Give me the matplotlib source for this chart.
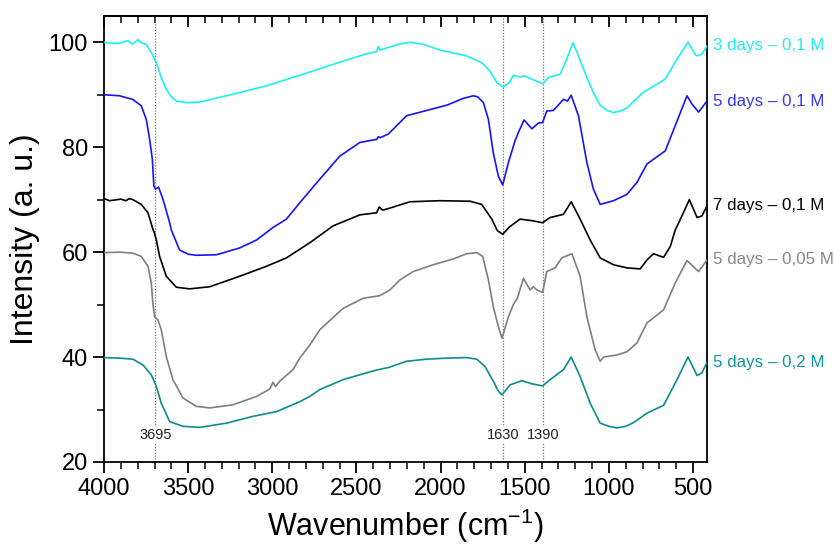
import matplotlib
matplotlib.use("Agg")
import matplotlib.pyplot as plt
from matplotlib.ticker import MultipleLocator

plt.rcParams['font.family'] = ['Liberation Sans', 'DejaVu Sans']
plt.rcParams['mathtext.fontset'] = 'custom'
plt.rcParams['mathtext.rm'] = 'Liberation Sans'
plt.rcParams['mathtext.it'] = 'Liberation Sans:italic'
plt.rcParams['mathtext.default'] = 'rm'

# ---------------- data ----------------
wn_3d01 = [4000, 3960, 3908, 3860, 3830, 3800, 3780, 3749, 3719, 3689, 3660, 3630, 3600, 3570,
           3511, 3432, 3234, 3035, 2837, 2639, 2440, 2380, 2371, 2360, 2321, 2250, 2182, 2100,
           2004, 1845, 1756, 1706, 1666, 1631, 1591, 1568, 1530, 1500, 1468, 1394, 1359, 1290,
           1250, 1214, 1181, 1131, 1090, 1052, 1010, 973, 930, 893, 794, 714, 665, 595, 530,
           481, 447, 417]
int_3d01 = [100.0, 99.8, 99.8, 100.3, 99.6, 100.5, 99.9, 99.6, 98.0, 96.1, 93.3, 91.0, 89.6, 88.8,
            88.5, 88.6, 90.1, 91.7, 93.7, 95.8, 97.8, 98.2, 99.2, 98.5, 98.9, 99.6, 100.0, 99.6,
            98.5, 97.4, 96.1, 94.5, 92.3, 91.5, 92.3, 93.7, 93.4, 93.6, 93.1, 92.1, 93.3, 93.9,
            96.8, 99.9, 97.4, 93.3, 90.3, 88.0, 87.0, 86.6, 86.9, 87.5, 90.5, 92.0, 93.0, 96.8,
            100.0, 97.4, 97.7, 99.3]

wn_5d01 = [4000, 3908, 3829, 3779, 3749, 3729, 3713, 3704, 3694, 3676, 3650, 3610, 3600, 3551,
           3500, 3451, 3332, 3194, 3094, 2996, 2916, 2837, 2718, 2599, 2480, 2380, 2370, 2360,
           2311, 2202, 2083, 1964, 1865, 1806, 1780, 1746, 1716, 1687, 1657, 1631, 1597, 1558,
           1538, 1504, 1458, 1419, 1394, 1369, 1330, 1270, 1246, 1224, 1181, 1131, 1092, 1052,
           973, 893, 833, 774, 665, 606, 536, 506, 467, 417]
int_5d01 = [90.0, 89.8, 89.1, 87.9, 85.3, 81.5, 77.7, 72.6, 72.0, 72.4, 70.1, 65.6, 64.2, 60.4,
            59.6, 59.4, 59.5, 60.8, 62.3, 64.7, 66.3, 69.4, 73.9, 78.3, 80.9, 81.5, 82.0, 81.8,
            82.5, 86.0, 87.0, 88.0, 89.3, 89.8, 89.6, 88.5, 85.3, 78.9, 74.5, 72.8, 77.1, 81.2,
            82.8, 85.2, 83.5, 84.6, 84.7, 86.9, 87.0, 89.1, 88.8, 89.9, 86.0, 77.1, 72.0, 69.1,
            69.8, 71.0, 73.3, 76.8, 79.3, 84.1, 89.8, 88.2, 86.7, 88.8]

wn_7d01 = [4000, 3967, 3900, 3870, 3850, 3829, 3779, 3739, 3710, 3700, 3689, 3670, 3630, 3570,
           3491, 3372, 3194, 3035, 2916, 2777, 2639, 2480, 2380, 2365, 2345, 2311, 2182, 2004,
           1825, 1756, 1696, 1663, 1631, 1591, 1528, 1458, 1394, 1349, 1270, 1224, 1171, 1111,
           1052, 973, 893, 814, 774, 735, 675, 635, 606, 566, 522, 476, 447, 417]
int_7d01 = [70.2, 69.8, 70.1, 69.8, 70.2, 70.0, 69.1, 67.5, 64.4, 63.6, 62.3, 59.2, 55.4, 53.3,
            53.0, 53.4, 55.4, 57.3, 58.9, 61.8, 65.0, 67.1, 67.5, 68.6, 68.0, 68.3, 69.6, 69.8,
            69.7, 69.1, 66.3, 64.1, 63.4, 64.8, 66.3, 66.0, 65.6, 66.6, 67.2, 69.6, 66.3, 62.3,
            58.9, 57.6, 57.0, 56.8, 58.5, 59.7, 59.0, 61.1, 64.2, 66.9, 70.0, 66.6, 66.9, 68.8]

wn_5d005 = [4000, 3908, 3829, 3779, 3739, 3719, 3710, 3700, 3680, 3660, 3630, 3591, 3531, 3451,
            3372, 3234, 3094, 3015, 2996, 2981, 2956, 2877, 2837, 2777, 2718, 2579, 2460, 2361,
            2301, 2242, 2163, 2044, 1925, 1845, 1785, 1750, 1716, 1687, 1657, 1635, 1597, 1568,
            1544, 1508, 1468, 1449, 1428, 1394, 1369, 1320, 1280, 1250, 1220, 1171, 1131, 1082,
            1052, 1032, 952, 893, 833, 774, 675, 606, 536, 467, 417]
int_5d005 = [59.9, 60.0, 59.8, 59.2, 57.3, 54.1, 50.3, 47.7, 47.1, 45.2, 40.1, 35.7, 32.2, 30.6,
             30.3, 30.9, 32.5, 33.9, 35.2, 34.4, 35.4, 37.6, 39.8, 42.3, 45.2, 49.3, 51.2, 51.7,
             52.8, 54.7, 56.3, 57.6, 58.7, 59.7, 59.9, 59.2, 54.7, 49.6, 45.8, 43.6, 47.7, 50.0,
             51.2, 55.0, 52.8, 53.4, 52.8, 52.3, 56.3, 57.0, 58.9, 59.3, 59.7, 55.4, 47.7, 41.4,
             39.2, 40.0, 40.4, 41.0, 42.7, 46.5, 49.0, 54.1, 58.4, 56.3, 58.5]

wn_5d02 = [4000, 3908, 3829, 3769, 3719, 3689, 3660, 3610, 3531, 3432, 3273, 3115, 2975, 2837,
           2777, 2718, 2579, 2440, 2371, 2311, 2202, 2083, 1964, 1845, 1785, 1736, 1687, 1655,
           1635, 1587, 1518, 1458, 1394, 1349, 1270, 1224, 1171, 1111, 1052, 1000, 952, 900, 854,
           774, 675, 595, 530, 476, 447, 417]
int_5d02 = [39.9, 39.8, 39.6, 38.5, 36.6, 34.4, 31.2, 27.7, 26.8, 26.6, 27.4, 28.7, 29.6, 31.5,
            32.5, 33.8, 35.7, 37.0, 37.6, 38.0, 39.2, 39.6, 39.8, 39.9, 39.6, 38.2, 35.4, 33.4,
            32.8, 34.7, 35.5, 34.9, 34.5, 35.7, 37.6, 40.0, 36.3, 31.2, 27.4, 26.8, 26.5, 26.8, 27.5,
            29.3, 30.8, 35.7, 40.0, 36.5, 37.0, 39.0]

series_labels = ['3 days – 0,1 M', '5 days – 0,1 M', '7 days – 0,1 M',
                 '5 days – 0,05 M', '5 days – 0,2 M']
series_wn = [wn_3d01, wn_5d01, wn_7d01, wn_5d005, wn_5d02]
series_int = [int_3d01, int_5d01, int_7d01, int_5d005, int_5d02]
series_colors = ['#1CF0F0', '#1515F5', '#000000', '#7F7F7F', '#0A8C8C']
label_colors = ['#22EEEE', '#3838EE', '#000000', '#888888', '#119999']

band_positions = [3695, 1630, 1390]
band_labels = ['3695', '1630', '1390']

# ---------------- figure ----------------
fig = plt.figure(figsize=(8.37, 5.47), dpi=100)
ax = fig.add_axes([0.1243, 0.1554, 0.8447 - 0.1243, 0.9707 - 0.1554])

for pos, lab in zip(band_positions, band_labels):
    ax.axvline(pos, color='#777777', lw=0.9, ls=(0, (1, 1.3)), zorder=1)
    ax.text(pos, 25.1, lab, ha='center', va='center', fontsize=10.5, color='#222222',
            bbox=dict(facecolor='white', edgecolor='none', pad=1.0), zorder=2)

for wn, it, col, lcol, lab in zip(series_wn, series_int, series_colors, label_colors, series_labels):
    ax.plot(wn, it, color=col, lw=1.2, zorder=3)
    ax.annotate(lab, xy=(1.0, it[-1]), xycoords=('axes fraction', 'data'),
                xytext=(4.3, 0), textcoords='offset points', ha='left', va='center',
                fontsize=12.2, color=lcol, annotation_clip=False)

ax.set_xlim(4000, 417)
ax.set_ylim(20, 105)
ax.xaxis.set_major_locator(MultipleLocator(500))
ax.xaxis.set_minor_locator(MultipleLocator(100))
ax.yaxis.set_major_locator(MultipleLocator(20))
ax.yaxis.set_minor_locator(MultipleLocator(10))

ax.tick_params(axis='both', which='major', labelsize=17, width=1.3, length=8, direction='out',
               top=False, right=False)
ax.tick_params(axis='both', which='minor', width=1.1, length=5, direction='out',
               top=False, right=False)
# inward ticks along the top edge
secx = ax.secondary_xaxis('top')
secx.xaxis.set_major_locator(MultipleLocator(500))
secx.xaxis.set_minor_locator(MultipleLocator(100))
secx.tick_params(axis='x', which='major', direction='in', length=8, width=1.3, labeltop=False)
secx.tick_params(axis='x', which='minor', direction='in', length=5, width=1.1)
secx.spines['top'].set_linewidth(1.3)

for s in ax.spines.values():
    s.set_linewidth(1.3)

ax.set_xlabel('Wavenumber (cm$^{-1}$)', fontsize=22, labelpad=5)
ax.set_ylabel('Intensity (a. u.)', fontsize=23, labelpad=6)

fig.savefig('out.png', dpi=100)
